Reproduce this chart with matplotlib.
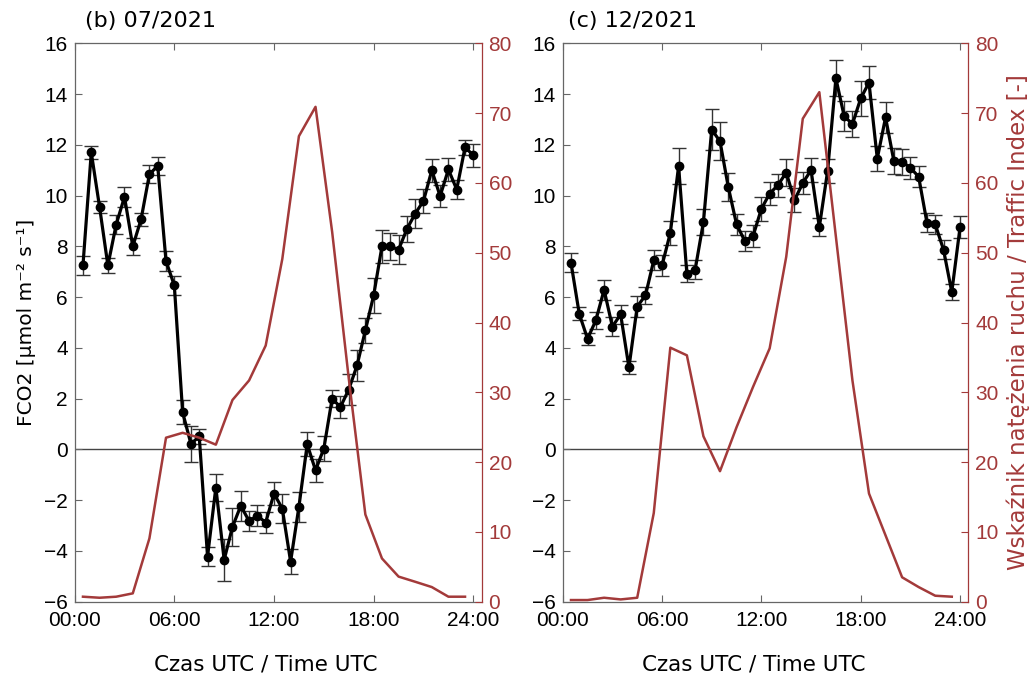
import numpy as np
import matplotlib
matplotlib.use("Agg")
import matplotlib.pyplot as plt

# ---- data ----
hours_flux = [0.5 * (i + 1) for i in range(48)]          # 00:30 ... 24:00
hours_traffic = [0.5 + i for i in range(24)]             # 00:30 ... 23:30

fco2_jul = [7.25, 11.7, 9.55, 7.25, 8.86, 9.95, 8.0, 9.07, 10.84, 11.17,
            7.42, 6.46, 1.46, 0.22, 0.51, -4.22, -1.50, -4.35, -3.05, -2.22,
            -2.82, -2.61, -2.88, -1.74, -2.33, -4.42, -2.26, 0.2, -0.82, 0.03,
            2.0, 1.67, 2.36, 3.31, 4.69, 6.07, 8.0, 8.0, 7.87, 8.68,
            9.29, 9.79, 11.0, 9.98, 11.03, 10.24, 11.9, 11.59]
err_jul = [0.39, 0.25, 0.22, 0.29, 0.39, 0.39, 0.34, 0.25, 0.36, 0.36,
           0.39, 0.39, 0.47, 0.70, 0.31, 0.37, 0.52, 0.83, 0.76, 0.58,
           0.39, 0.42, 0.41, 0.46, 0.56, 0.50, 0.58, 0.47, 0.45, 0.50,
           0.33, 0.44, 0.60, 0.60, 0.50, 0.68, 0.66, 0.53, 0.56, 0.52,
           0.56, 0.46, 0.46, 0.43, 0.45, 0.36, 0.30, 0.45]
traffic_jul = [0.72, 0.57, 0.72, 1.2, 9.07, 23.5, 24.2, 23.5, 22.5, 28.9,
               31.7, 36.7, 49.1, 66.7, 70.9, 53.0, 32.0, 12.5, 6.2, 3.6,
               2.86, 2.1, 0.72, 0.72]

fco2_dec = [7.36, 5.34, 4.36, 5.08, 6.29, 4.84, 5.32, 3.23, 5.63, 6.07,
            7.45, 7.25, 8.53, 11.16, 6.92, 7.08, 8.96, 12.6, 12.14, 10.34,
            8.87, 8.21, 8.41, 9.48, 10.08, 10.41, 10.91, 9.82, 10.5, 11.0,
            8.76, 10.97, 14.62, 13.13, 12.82, 13.83, 14.45, 11.46, 13.08, 11.37,
            11.33, 11.1, 10.74, 8.93, 8.87, 7.87, 6.2, 8.76]
err_dec = [0.38, 0.26, 0.23, 0.34, 0.39, 0.38, 0.36, 0.24, 0.40, 0.34,
           0.39, 0.41, 0.48, 0.70, 0.33, 0.38, 0.53, 0.82, 0.75, 0.57,
           0.41, 0.41, 0.43, 0.47, 0.46, 0.45, 0.55, 0.46, 0.43, 0.47,
           0.34, 0.48, 0.71, 0.59, 0.53, 0.68, 0.66, 0.51, 0.62, 0.51,
           0.51, 0.44, 0.42, 0.37, 0.38, 0.38, 0.30, 0.43]
traffic_dec = [0.24, 0.24, 0.57, 0.33, 0.57, 12.7, 36.4, 35.3, 23.7, 18.7,
               25.0, 30.8, 36.3, 49.4, 69.2, 73.0, 52.3, 31.7, 15.5, 9.5,
               3.5, 2.1, 0.86, 0.72]

xtick_pos = [0, 6, 12, 18, 24]
xtick_labels = ["00:00", "06:00", "12:00", "18:00", "24:00"]
titles = ["(b) 07/2021", "(c) 12/2021"]

# ---- styling ----
RED = "#A33A3A"
SPINE = "#666666"
TICKFONT = "Liberation Sans"
LABFONT = "DejaVu Sans"

fig = plt.figure(figsize=(10.34, 6.82), dpi=100)
axes_rects = [[0.0722, 0.1177, 0.3936, 0.8188], [0.5442, 0.1177, 0.3923, 0.8188]]

panels = [(fco2_jul, err_jul, traffic_jul), (fco2_dec, err_dec, traffic_dec)]
for k, (rect, (fl, er, tr)) in enumerate(zip(axes_rects, panels)):
    ax = fig.add_axes(rect)
    ax2 = ax.twinx()
    ax.axhline(0, color="#444444", lw=1.0, zorder=1)
    ax.errorbar(hours_flux, fl, yerr=er, fmt="none", ecolor="#333333",
                elinewidth=1.0, capsize=5, capthick=1.0, zorder=2)
    ax.plot(hours_flux, fl, color="black", lw=2.3, marker="o", ms=6, zorder=3)
    ax2.plot(hours_traffic, tr, color=RED, lw=1.8)

    ax.set_xlim(0, 24.5)
    ax.set_ylim(-6, 16)
    ax2.set_ylim(0, 80)
    ax.set_yticks(range(-6, 17, 2))
    ax2.set_yticks(range(0, 81, 10))
    ax.set_xticks(xtick_pos)
    ax.set_xticklabels(xtick_labels)

    ax.tick_params(axis="both", direction="in", length=5, width=0.8,
                   colors="black", labelsize=15, top=True, right=False,
                   color=SPINE, pad=5)
    ax.tick_params(axis="x", pad=7)
    ax2.tick_params(axis="y", direction="in", length=5, width=0.8,
                    color=RED, labelcolor=RED, labelsize=15, pad=5)
    for lab in ax.get_xticklabels() + ax.get_yticklabels() + ax2.get_yticklabels():
        lab.set_fontfamily(TICKFONT)

    for s in ["left", "top", "bottom"]:
        ax.spines[s].set_color(SPINE)
        ax.spines[s].set_linewidth(0.9)
    ax2.spines["right"].set_color(RED)
    ax2.spines["right"].set_linewidth(0.9)
    for s in ["left", "top", "bottom"]:
        ax2.spines[s].set_visible(False)
    ax.spines["right"].set_visible(False)

    ax.set_xlabel("Czas UTC / Time UTC", fontsize=15.5, family=LABFONT)
    ax.xaxis.set_label_coords(0.47, -0.095)
    ax.text(0.025 if k == 0 else 0.013, 1.022, titles[k], transform=ax.transAxes,
            fontsize=16, family=LABFONT, ha="left", va="bottom")
    if k == 0:
        ax.set_ylabel("FCO2 [µmol m⁻² s⁻¹]", fontsize=14.5, family=LABFONT, labelpad=6)
    else:
        ax2.set_ylabel("Wskaźnik natężenia ruchu / Traffic Index [-]", fontsize=16.5,
                       family=LABFONT, color=RED, labelpad=6)

fig.savefig("out.png", dpi=100)
